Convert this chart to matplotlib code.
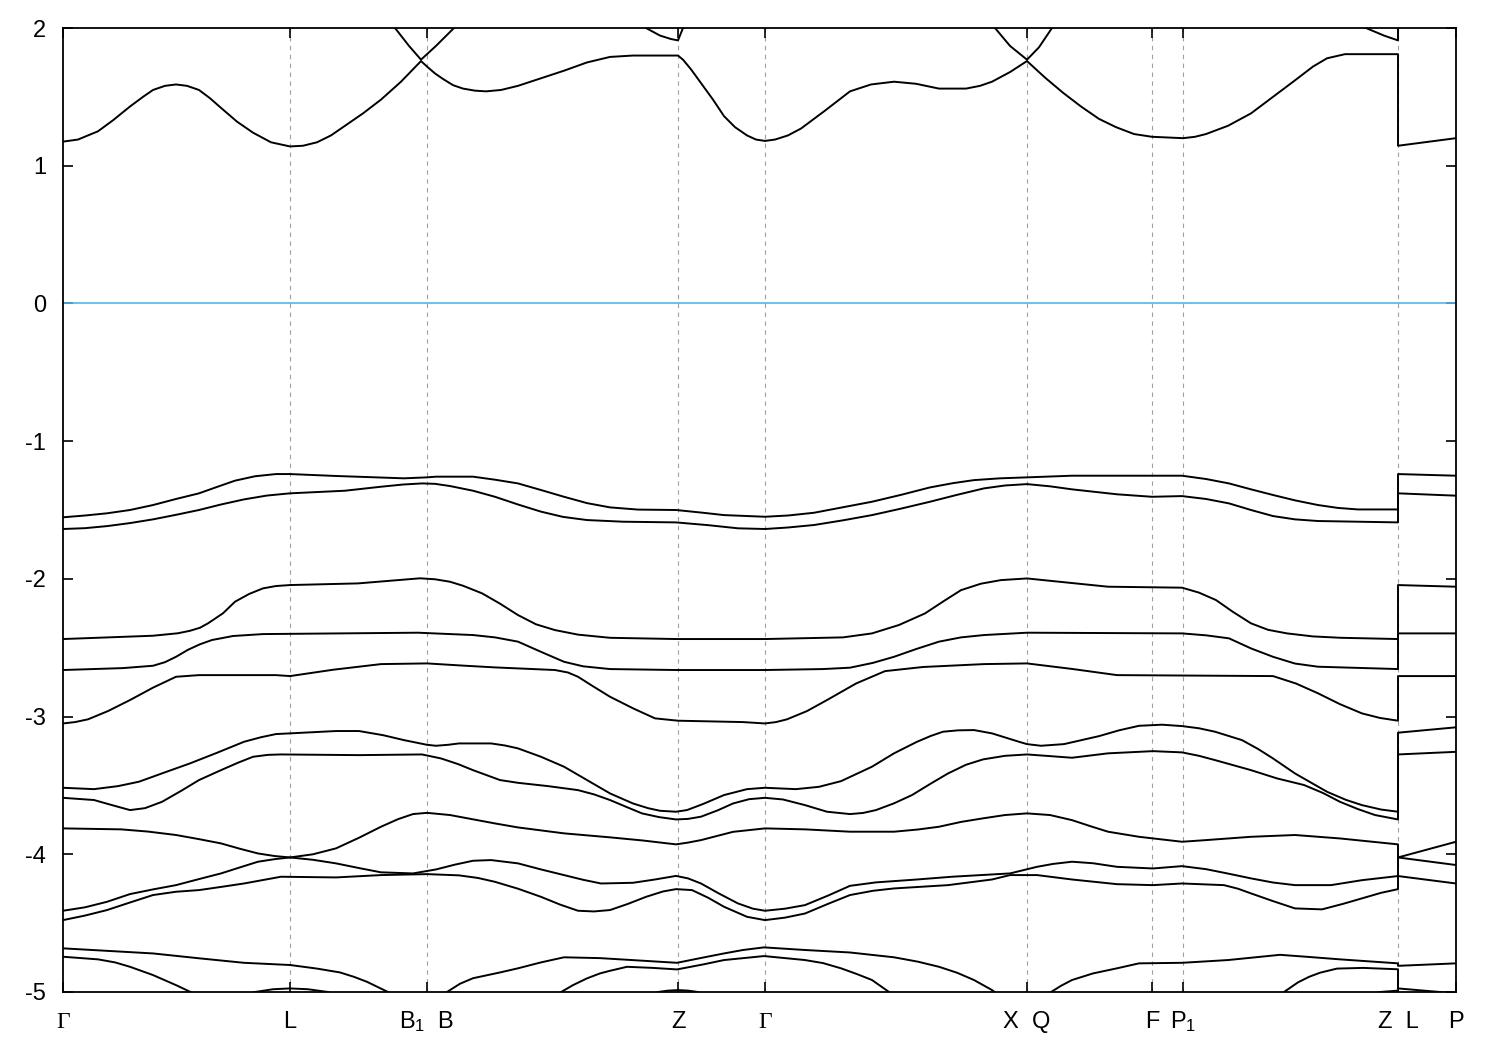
import matplotlib
matplotlib.use('Agg')
import matplotlib.pyplot as plt

# high-symmetry points along the path (path distance, arb. units)
KPOINT_POS = [0, 227, 364, 615, 702, 964, 1089, 1120, 1335, 1393]
KPOINT_LABELS = ['Γ', 'L', r'B$_1$  B', 'Z', 'Γ', 'X  Q', 'F', r'P$_1$', 'Z  L', 'P']

E_MIN, E_MAX = -5, 2
FERMI = 0.0

# bands as (k, E) pairs; the Z|L jump is two points at the same k
C1 = [(0, 1.175), (15, 1.19), (35, 1.25), (50, 1.33), (67, 1.43), (80, 1.50), (90, 1.55),
      (102, 1.58), (113, 1.59), (124, 1.58), (136, 1.55), (147, 1.49), (158, 1.42), (174, 1.32),
      (190, 1.24), (208, 1.17), (227, 1.14), (240, 1.145), (254, 1.17), (268, 1.22), (282, 1.29),
      (300, 1.38), (318, 1.48), (338, 1.61), (358, 1.76), (364, 1.72), (372, 1.67), (380, 1.63),
      (390, 1.585), (400, 1.56), (412, 1.545), (423, 1.54), (438, 1.55), (455, 1.58),
      (478, 1.635), (501, 1.69), (524, 1.75), (547, 1.79), (570, 1.80), (615, 1.80), (620, 1.77),
      (628, 1.70), (638, 1.60), (650, 1.48), (661, 1.36), (672, 1.28), (684, 1.22), (693, 1.19),
      (702, 1.18), (712, 1.19), (725, 1.22), (738, 1.27), (762, 1.40), (787, 1.54), (808, 1.59),
      (831, 1.61), (853, 1.595), (876, 1.56), (903, 1.56), (917, 1.58), (929, 1.61), (947, 1.68),
      (964, 1.76), (982, 1.64), (1000, 1.53), (1018, 1.43), (1036, 1.34), (1053, 1.28),
      (1071, 1.23), (1089, 1.21), (1120, 1.20), (1132, 1.21), (1143, 1.23), (1165, 1.29),
      (1188, 1.38), (1210, 1.50), (1232, 1.62), (1250, 1.72), (1264, 1.78), (1282, 1.81),
      (1335, 1.81), (1335, 1.145), (1393, 1.20)]
C2 = [(0, 2.6), (113, 2.5), (227, 2.4), (300, 2.15), (332, 2.0), (346, 1.87), (358, 1.77),
      (373, 1.87), (391, 2.0), (450, 2.3), (520, 2.3), (560, 2.12), (583, 2.0), (597, 1.945),
      (608, 1.92), (615, 1.91), (620, 2.0), (640, 2.25), (702, 2.5), (800, 2.4), (900, 2.3),
      (932, 2.0), (947, 1.87), (964, 1.77), (976, 1.86), (989, 2.0), (1050, 2.3), (1150, 2.3),
      (1270, 2.1), (1303, 2.0), (1321, 1.945), (1335, 1.91), (1335, 2.5), (1393, 2.5)]
V1 = [(0, -1.553), (22, -1.54), (44, -1.524), (67, -1.50), (90, -1.464), (113, -1.42),
      (136, -1.379), (155, -1.33), (172, -1.287), (192, -1.255), (213, -1.239), (227, -1.239),
      (273, -1.253), (341, -1.270), (364, -1.263), (373, -1.258), (410, -1.258), (432, -1.28),
      (455, -1.307), (478, -1.355), (501, -1.404), (524, -1.45), (547, -1.481), (575, -1.497),
      (613, -1.500), (640, -1.52), (661, -1.537), (702, -1.549), (725, -1.54), (751, -1.520),
      (780, -1.48), (809, -1.440), (838, -1.39), (867, -1.336), (890, -1.305), (911, -1.283),
      (937, -1.27), (964, -1.263), (1009, -1.251), (1119, -1.251), (1143, -1.275),
      (1166, -1.307), (1188, -1.35), (1210, -1.391), (1232, -1.43), (1255, -1.464),
      (1275, -1.485), (1295, -1.496), (1335, -1.496), (1335, -1.239), (1393, -1.251)]
V2 = [(0, -1.638), (22, -1.632), (44, -1.617), (67, -1.595), (90, -1.568), (113, -1.535),
      (136, -1.500), (158, -1.46), (181, -1.423), (204, -1.395), (227, -1.379), (282, -1.360),
      (318, -1.331), (340, -1.315), (359, -1.307), (372, -1.31), (387, -1.326), (410, -1.36),
      (432, -1.404), (455, -1.46), (478, -1.512), (500, -1.55), (524, -1.573), (560, -1.585),
      (613, -1.590), (645, -1.61), (675, -1.633), (702, -1.638), (725, -1.627), (751, -1.609),
      (780, -1.575), (809, -1.537), (838, -1.49), (867, -1.440), (894, -1.39), (921, -1.343),
      (942, -1.322), (964, -1.312), (987, -1.328), (1009, -1.350), (1054, -1.386),
      (1089, -1.404), (1119, -1.399), (1143, -1.42), (1166, -1.452), (1188, -1.50),
      (1210, -1.544), (1232, -1.568), (1255, -1.580), (1335, -1.590), (1335, -1.379),
      (1393, -1.396)]
V3 = [(0, -2.437), (90, -2.413), (115, -2.395), (127, -2.377), (137, -2.355), (145, -2.323),
      (160, -2.25), (172, -2.166), (186, -2.11), (200, -2.069), (213, -2.052), (227, -2.045),
      (295, -2.033), (357, -1.996), (372, -2.003), (387, -2.021), (400, -2.05), (419, -2.105),
      (437, -2.18), (455, -2.263), (473, -2.33), (492, -2.372), (515, -2.405), (547, -2.428),
      (613, -2.437), (702, -2.437), (780, -2.425), (809, -2.396), (836, -2.335), (862, -2.251),
      (880, -2.165), (898, -2.082), (918, -2.035), (938, -2.009), (964, -1.997), (1045, -2.057),
      (1119, -2.064), (1136, -2.10), (1153, -2.154), (1170, -2.24), (1188, -2.323),
      (1205, -2.37), (1224, -2.396), (1250, -2.418), (1278, -2.428), (1335, -2.437),
      (1335, -2.045), (1393, -2.057)]
V4 = [(0, -2.662), (60, -2.648), (90, -2.631), (102, -2.605), (113, -2.566), (125, -2.515),
      (137, -2.475), (149, -2.444), (170, -2.415), (200, -2.401), (355, -2.391), (410, -2.408),
      (432, -2.425), (455, -2.456), (478, -2.53), (501, -2.602), (520, -2.635), (547, -2.655),
      (613, -2.662), (702, -2.662), (760, -2.655), (787, -2.645), (810, -2.61), (831, -2.566),
      (853, -2.51), (876, -2.456), (898, -2.425), (921, -2.408), (964, -2.391), (1119, -2.396),
      (1143, -2.41), (1166, -2.432), (1188, -2.505), (1210, -2.566), (1232, -2.615),
      (1255, -2.638), (1335, -2.655), (1335, -2.396), (1393, -2.396)]
V5 = [(0, -3.05), (12, -3.04), (25, -3.02), (45, -2.96), (67, -2.880), (90, -2.79),
      (113, -2.711), (136, -2.699), (213, -2.699), (227, -2.706), (270, -2.66), (318, -2.619),
      (364, -2.614), (400, -2.63), (432, -2.643), (492, -2.662), (505, -2.68), (515, -2.711),
      (530, -2.78), (547, -2.856), (570, -2.94), (592, -3.013), (615, -3.03), (680, -3.04),
      (702, -3.05), (713, -3.04), (724, -3.02), (744, -2.96), (764, -2.880), (793, -2.76),
      (822, -2.670), (860, -2.64), (921, -2.619), (964, -2.614), (1010, -2.655), (1054, -2.699),
      (1210, -2.706), (1233, -2.76), (1255, -2.831), (1277, -2.91), (1299, -2.977),
      (1317, -3.01), (1335, -3.03), (1335, -2.706), (1393, -2.706)]
V6 = [(0, -3.517), (31, -3.527), (55, -3.505), (76, -3.473), (100, -3.41), (127, -3.340),
      (155, -3.26), (181, -3.183), (198, -3.15), (213, -3.127), (227, -3.122), (273, -3.105),
      (296, -3.105), (320, -3.135), (341, -3.171), (364, -3.205), (373, -3.212), (385, -3.205),
      (396, -3.195), (428, -3.195), (442, -3.21), (455, -3.231), (478, -3.292), (501, -3.364),
      (524, -3.461), (547, -3.558), (570, -3.631), (585, -3.665), (597, -3.684), (613, -3.691),
      (624, -3.679), (640, -3.635), (661, -3.570), (684, -3.527), (702, -3.517), (733, -3.527),
      (756, -3.510), (778, -3.469), (809, -3.364), (831, -3.267), (854, -3.183), (868, -3.14),
      (880, -3.110), (895, -3.10), (911, -3.098), (929, -3.122), (956, -3.183), (964, -3.200),
      (978, -3.212), (1001, -3.200), (1036, -3.142), (1056, -3.10), (1076, -3.067),
      (1099, -3.059), (1119, -3.069), (1136, -3.085), (1152, -3.110), (1179, -3.171),
      (1195, -3.235), (1210, -3.304), (1232, -3.413), (1264, -3.546), (1283, -3.605),
      (1299, -3.643), (1318, -3.675), (1335, -3.691), (1335, -3.117), (1393, -3.078)]
V7 = [(0, -3.590), (31, -3.606), (50, -3.645), (67, -3.679), (82, -3.665), (99, -3.619),
      (118, -3.54), (136, -3.461), (158, -3.389), (175, -3.335), (190, -3.292), (205, -3.278),
      (218, -3.275), (296, -3.280), (359, -3.275), (378, -3.304), (395, -3.345), (410, -3.389),
      (437, -3.461), (455, -3.481), (485, -3.505), (515, -3.534), (531, -3.565), (547, -3.606),
      (563, -3.655), (579, -3.703), (596, -3.73), (613, -3.747), (625, -3.743), (638, -3.727),
      (655, -3.68), (670, -3.631), (686, -3.60), (702, -3.590), (720, -3.602), (742, -3.643),
      (764, -3.691), (787, -3.708), (800, -3.70), (813, -3.679), (831, -3.63), (849, -3.570),
      (867, -3.49), (885, -3.413), (903, -3.35), (920, -3.311), (942, -3.285), (964, -3.275),
      (983, -3.285), (1009, -3.299), (1045, -3.267), (1090, -3.251), (1119, -3.260),
      (1136, -3.285), (1152, -3.316), (1188, -3.389), (1214, -3.449), (1241, -3.497),
      (1260, -3.555), (1277, -3.619), (1295, -3.672), (1312, -3.715), (1335, -3.747),
      (1335, -3.275), (1393, -3.256)]
V8 = [(0, -3.812), (58, -3.819), (85, -3.835), (113, -3.860), (136, -3.89), (158, -3.921),
      (177, -3.96), (195, -3.994), (212, -4.013), (227, -4.023), (250, -4.00), (273, -3.957),
      (296, -3.88), (318, -3.800), (335, -3.745), (350, -3.708), (364, -3.699), (387, -3.715),
      (432, -3.776), (455, -3.805), (501, -3.848), (547, -3.877), (580, -3.90), (613, -3.928),
      (625, -3.915), (638, -3.897), (670, -3.837), (702, -3.812), (742, -3.819), (787, -3.836),
      (831, -3.836), (855, -3.82), (876, -3.800), (898, -3.765), (920, -3.739), (942, -3.715),
      (964, -3.703), (987, -3.715), (1009, -3.752), (1027, -3.795), (1045, -3.836),
      (1076, -3.873), (1119, -3.909), (1143, -3.897), (1188, -3.873), (1232, -3.860),
      (1277, -3.885), (1335, -3.928), (1335, -4.023), (1393, -3.909)]
V9 = [(0, -4.410), (22, -4.385), (44, -4.345), (67, -4.289), (90, -4.255), (113, -4.224),
      (136, -4.18), (158, -4.139), (177, -4.095), (195, -4.054), (212, -4.035), (227, -4.023),
      (250, -4.04), (273, -4.066), (296, -4.10), (318, -4.131), (350, -4.139), (373, -4.110),
      (392, -4.075), (410, -4.047), (428, -4.042), (455, -4.066), (478, -4.11), (501, -4.151),
      (520, -4.185), (538, -4.212), (570, -4.207), (592, -4.183), (613, -4.157), (625, -4.175),
      (638, -4.212), (656, -4.285), (675, -4.357), (690, -4.395), (702, -4.410), (722, -4.395),
      (742, -4.369), (765, -4.30), (787, -4.229), (813, -4.204), (854, -4.183), (889, -4.163),
      (947, -4.139), (974, -4.091), (990, -4.07), (1009, -4.054), (1030, -4.065),
      (1054, -4.091), (1090, -4.103), (1119, -4.086), (1143, -4.108), (1165, -4.14),
      (1188, -4.175), (1210, -4.205), (1232, -4.224), (1268, -4.224), (1299, -4.188),
      (1335, -4.158), (1335, -4.023), (1393, -4.078)]
V10 = [(0, -4.478), (22, -4.445), (44, -4.405), (67, -4.35), (90, -4.296), (113, -4.272),
       (136, -4.260), (158, -4.237), (181, -4.212), (218, -4.163), (273, -4.168), (318, -4.151),
       (364, -4.144), (396, -4.153), (415, -4.172), (432, -4.200), (455, -4.25), (478, -4.309),
       (497, -4.365), (515, -4.410), (531, -4.415), (547, -4.405), (565, -4.36), (583, -4.309),
       (600, -4.27), (613, -4.253), (629, -4.260), (645, -4.315), (661, -4.381), (684, -4.454),
       (702, -4.478), (722, -4.46), (742, -4.430), (765, -4.36), (787, -4.296), (810, -4.265),
       (831, -4.248), (885, -4.224), (929, -4.183), (947, -4.151), (974, -4.151),
       (1009, -4.183), (1054, -4.217), (1090, -4.224), (1119, -4.212), (1161, -4.224),
       (1175, -4.25), (1188, -4.284), (1210, -4.34), (1232, -4.393), (1259, -4.400),
       (1280, -4.36), (1299, -4.320), (1318, -4.28), (1335, -4.253), (1335, -4.158),
       (1393, -4.212)]
V11 = [(0, -4.683), (90, -4.720), (137, -4.756), (181, -4.788), (227, -4.804), (254, -4.830),
       (277, -4.858), (291, -4.89), (304, -4.926), (325, -5.0), (345, -5.08), (364, -5.12),
       (375, -5.08), (384, -5.0), (397, -4.94), (410, -4.90), (437, -4.858), (455, -4.828),
       (478, -4.785), (501, -4.748), (537, -4.754), (614, -4.788), (640, -4.75), (661, -4.720),
       (680, -4.695), (701, -4.676), (742, -4.695), (787, -4.713), (831, -4.748), (855, -4.78),
       (876, -4.817), (894, -4.86), (911, -4.913), (929, -4.986), (945, -5.07), (964, -5.12),
       (975, -5.07), (987, -5.005), (998, -4.955), (1009, -4.913), (1030, -4.865),
       (1054, -4.828), (1076, -4.792), (1119, -4.788), (1165, -4.768), (1217, -4.730),
       (1245, -4.745), (1277, -4.763), (1335, -4.792), (1335, -4.810), (1393, -4.792)]
V12 = [(0, -4.744), (35, -4.763), (52, -4.785), (67, -4.817), (90, -4.877), (113, -4.950),
       (129, -5.005), (150, -5.06), (175, -5.05), (192, -5.0), (210, -4.98), (227, -4.974),
       (245, -4.98), (265, -5.0), (290, -5.08), (364, -5.2), (450, -5.15), (497, -5.005),
       (510, -4.95), (524, -4.901), (537, -4.865), (547, -4.846), (564, -4.817), (590, -4.825),
       (614, -4.836), (640, -4.80), (661, -4.768), (701, -4.739), (742, -4.768), (760, -4.79),
       (778, -4.828), (794, -4.87), (809, -4.913), (827, -5.005), (870, -5.1), (964, -5.2),
       (1100, -5.15), (1220, -5.005), (1235, -4.93), (1246, -4.89), (1257, -4.86),
       (1274, -4.83), (1300, -4.825), (1335, -4.835), (1335, -4.974), (1393, -5.01)]
V13 = [(0, -5.4), (227, -5.15), (364, -5.3), (560, -5.1), (595, -5.0), (605, -4.99),
       (615, -4.986), (625, -4.99), (635, -5.0), (702, -5.3), (964, -5.3), (1200, -5.2),
       (1317, -5.0), (1335, -4.99), (1335, -5.2), (1393, -5.2)]

BANDS = [C1, C2, V1, V2, V3, V4, V5, V6, V7, V8, V9, V10, V11, V12, V13]


def matplot_settings():
    matplotlib.rc('font', family='Liberation Sans', size=17)
    matplotlib.rc('mathtext', fontset='custom', rm='Liberation Sans', it='Liberation Sans')
    matplotlib.rc('axes', unicode_minus=False)


def plot_bands():
    matplot_settings()

    fig = plt.figure(figsize=(15, 10.5), dpi=100)
    ax = fig.add_axes([63 / 1500, 1 - 992 / 1050, 1393 / 1500, 964 / 1050])

    for k in KPOINT_POS[1:-1]:
        ax.axvline(k, color='#a0a0a0', linewidth=0.8, linestyle=(0, (4, 4)), zorder=1)

    ax.axhline(FERMI, color='#56b4e9', linewidth=1.2, zorder=2)

    for band in BANDS:
        ks = [p[0] for p in band]
        es = [p[1] for p in band]
        ax.plot(ks, es, color='black', linewidth=1.4, zorder=3)

    ax.set_xlim(KPOINT_POS[0], KPOINT_POS[-1])
    ax.set_ylim(E_MIN, E_MAX)
    ax.set_yticks(range(E_MIN, E_MAX + 1))
    ax.set_xticks(KPOINT_POS)
    ax.set_xticklabels([])

    # labels on a common baseline so the subscripts hang below it
    for k, label in zip(KPOINT_POS, KPOINT_LABELS):
        family = 'Liberation Serif' if label == 'Γ' else 'Liberation Sans'
        ax.text(k, -36 / 964, label, transform=ax.get_xaxis_transform(),
                ha='center', va='baseline', fontsize=17, family=family)

    ax.tick_params(axis='both', direction='in', length=7, width=1.2,
                   top=True, right=True, labelsize=17)
    ax.tick_params(axis='y', pad=12)
    for spine in ax.spines.values():
        spine.set_linewidth(1.3)

    plt.savefig('out.png', dpi=100)


if __name__ == '__main__':
    plot_bands()
